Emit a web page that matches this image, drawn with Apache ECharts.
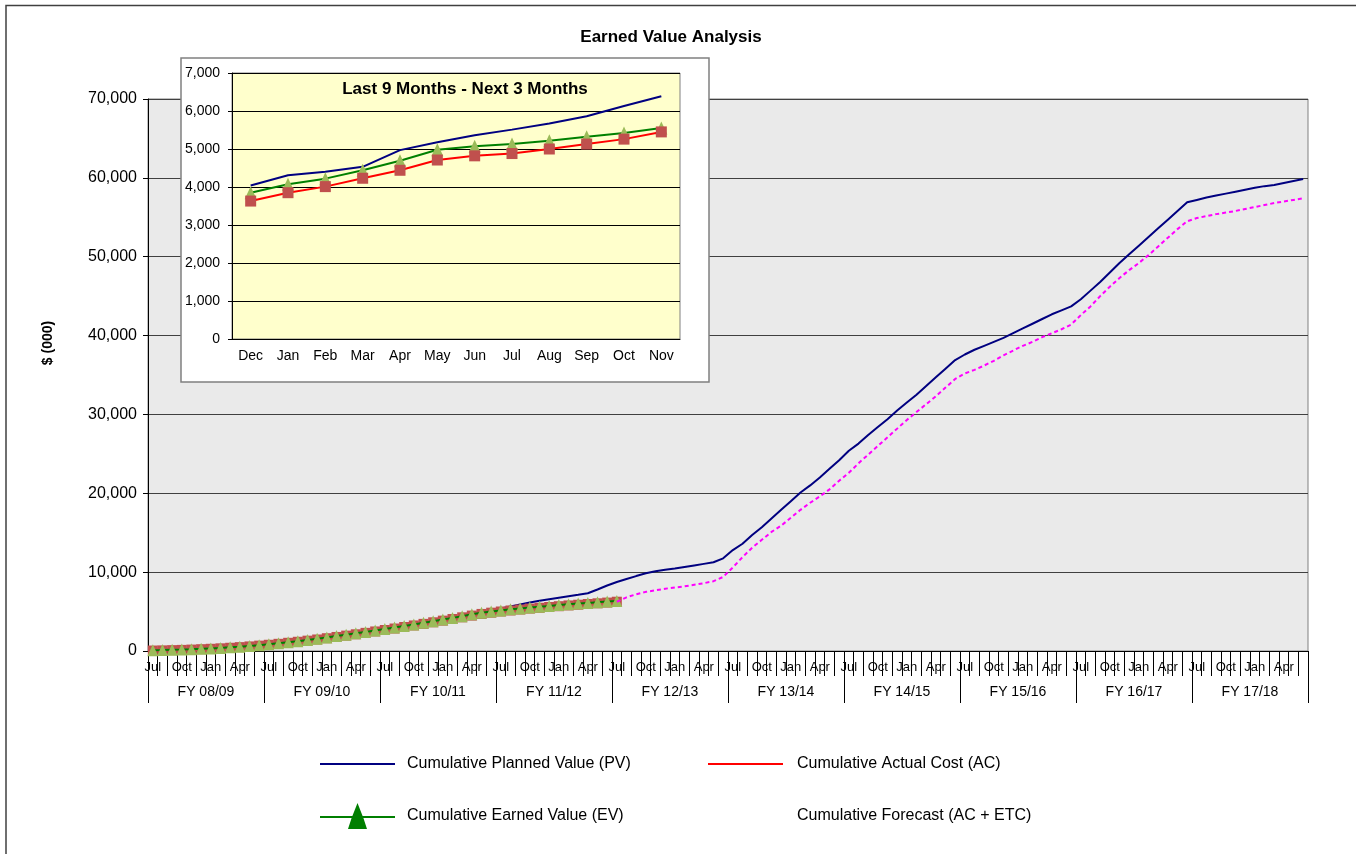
<!DOCTYPE html>
<html>
<head>
<meta charset="utf-8">
<script src="https://cdn.jsdelivr.net/npm/echarts@6/dist/echarts.min.js"></script>
<style>
html,body{margin:0;padding:0;background:#fff;}
#chart{width:1356px;height:854px;}
</style>
</head>
<body>
<div id="chart"></div>
<script>
// ---------- DATA ----------
const monthNames = ['Jul','Aug','Sep','Oct','Nov','Dec','Jan','Feb','Mar','Apr','May','Jun'];
const fyLabels = ['FY 08/09','FY 09/10','FY 10/11','FY 11/12','FY 12/13','FY 13/14','FY 14/15','FY 15/16','FY 16/17','FY 17/18'];

const pvValues = [
  150,180,210,250,300,350,410,480,550,630,720,820,
  940,1060,1180,1300,1440,1590,1740,1900,2060,2220,2390,2560,
  2740,2920,3110,3300,3500,3700,3920,4140,4380,4620,4860,5080,
  5400,5650,5900,6150,6380,6570,6760,6950,7130,7320,7800,8300,
  8750,9130,9500,9850,10100,10300,10450,10650,10850,11050,11250,11750,
  12800,13600,14700,15700,16800,17900,19000,20100,21000,22000,23100,24200,
  25400,26300,27400,28400,29400,30500,31500,32500,33600,34700,35800,36900,
  37600,38200,38700,39200,39700,40300,40900,41500,42100,42700,43200,43700,
  44600,45700,46800,48000,49200,50300,51400,52500,53600,54700,55800,56900,
  57200,57500,57750,58000,58250,58500,58750,58950,59100,59350,59600,59850
];
const acValues = [
  60,80,110,140,180,230,280,340,410,490,580,680,
  790,910,1040,1170,1310,1460,1620,1780,1950,2120,2300,2480,
  2660,2850,3040,3240,3440,3640,3850,4060,4270,4490,4700,4860,
  5010,5140,5260,5380,5480,5580,5680,5780,5870,5960,6050,6140,
  6250
];
const evValues = [
  100,120,150,180,220,270,330,390,460,540,630,730,
  850,980,1110,1250,1400,1560,1720,1890,2060,2240,2420,2600,
  2780,2970,3170,3370,3570,3780,3990,4200,4420,4650,4850,5000,
  5150,5280,5400,5520,5620,5720,5820,5920,6010,6100,6190,6280,
  6350
];
const forecastValues = [
  null,null,null,null,null,null,null,null,null,null,null,null,
  null,null,null,null,null,null,null,null,null,null,null,null,
  null,null,null,null,null,null,null,null,null,null,null,null,
  null,null,null,null,null,null,null,null,null,null,null,null,
  6250,6800,7200,7500,7700,7900,8050,8200,8400,8600,8850,9400,
  10600,11900,13100,14100,15100,15900,16900,17900,18800,19600,20500,21600,
  22600,23800,24900,26000,27100,28200,29300,30300,31300,32300,33400,34500,
  35200,35650,36200,36800,37500,38100,38700,39200,39800,40300,40800,41400,
  42600,43700,45000,46200,47300,48300,49200,50200,51300,52400,53500,54500,
  54900,55150,55400,55600,55800,56050,56300,56550,56800,57000,57200,57400
];

const insetMonths = ['Dec','Jan','Feb','Mar','Apr','May','Jun','Jul','Aug','Sep','Oct','Nov'];
const insetPV = [4040,4310,4400,4530,4970,5180,5360,5510,5670,5860,6130,6390];
const insetEV = [3850,4070,4220,4440,4690,4980,5070,5130,5220,5320,5420,5550];
const insetAC = [3630,3850,4010,4230,4440,4710,4820,4880,5000,5130,5260,5450];

const seriesNames = {
  pv: 'Cumulative Planned Value (PV)',
  ac: 'Cumulative Actual Cost (AC)',
  ev: 'Cumulative Earned Value (EV)',
  fc: 'Cumulative Forecast (AC + ETC)'
};

// ---------- BUILD ----------
const monthCats = [];
fyLabels.forEach(function(fy){ monthNames.forEach(function(m){ monthCats.push(m + ' ' + fy); }); });

const FONT = '"Liberation Sans", Arial, sans-serif';
const fmt = function(v){ return Number(v).toLocaleString('en-US'); };

const chart = echarts.init(document.getElementById('chart'), null, {renderer:'canvas'});
const option = {
  animation: false,
  backgroundColor: '#fff',
  textStyle: {fontFamily: FONT},
  title: [
    {text: 'Earned Value Analysis', left: 666, textAlign: 'center', top: 24,
     textStyle: {fontFamily: FONT, fontSize: 17, fontWeight: 'bold', color: '#000'}},
    {text: 'Last 9 Months - Next 3 Months', left: 460, textAlign: 'center', top: 76, z: 20,
     textStyle: {fontFamily: FONT, fontSize: 17, fontWeight: 'bold', color: '#000'}}
  ],
  graphic: [
    {type: 'polyline', z: 1, silent: true,
     shape: {points: [[6, 854], [6, 5.5], [1356, 5.5]]},
     style: {stroke: '#404040', lineWidth: 1.5, fill: null}},
    {type: 'rect', z: 10, silent: true,
     shape: {x: 181, y: 58, width: 528, height: 324},
     style: {fill: '#fff', stroke: '#808080', lineWidth: 1.5}},
    {type: 'text', z: 10, silent: true, x: 48, y: 343, rotation: Math.PI / 2,
     style: {text: '$ (000)', fill: '#000', font: 'bold 14px "Liberation Sans", Arial, sans-serif',
             align: 'center', verticalAlign: 'middle'}}
  ],
  legend: [
    {left: 320, top: 756, padding: 0, orient: 'vertical', itemWidth: 75, itemHeight: 26, itemGap: 31,
     selectedMode: false,
     textStyle: {fontFamily: FONT, fontSize: 16, color: '#000', padding: [0,0,0,7]},
     data: [
       {name: seriesNames.pv, icon: 'path://M0,0H75V2H0Z', itemStyle: {color: '#000080'}},
       {name: seriesNames.ev, icon: 'path://M0,13H32.4L37.5,0L42.6,13H75V15H43.4L47,26H28L31.6,15H0Z', itemStyle: {color: '#007F00'}}
     ]},
    {left: 708, top: 756, padding: 0, orient: 'vertical', itemWidth: 75, itemHeight: 26, itemGap: 31,
     selectedMode: false,
     textStyle: {fontFamily: FONT, fontSize: 16, color: '#000', padding: [0,0,0,9]},
     data: [
       {name: seriesNames.ac, icon: 'path://M0,0H75V2H0Z', itemStyle: {color: '#FF0000'}},
       {name: seriesNames.fc, icon: 'rect', itemStyle: {color: 'rgba(0,0,0,0)'}}
     ]}
  ],
  grid: [
    {left: 148, right: 48, top: 99, bottom: 203, show: true, backgroundColor: '#EAEAEA',
     borderColor: '#808080', borderWidth: 1, containLabel: false},
    {left: 232, right: 676, top: 73, bottom: 515, show: true, backgroundColor: '#FFFFCC',
     borderColor: '#808080', borderWidth: 1, z: 12, containLabel: false}
  ],
  xAxis: [
    {type: 'category', gridIndex: 0, data: monthCats, boundaryGap: true,
     axisLine: {show: true, lineStyle: {color: '#000', width: 1}},
     axisTick: {show: true, interval: 0, length: 25, lineStyle: {color: '#000'}},
     axisLabel: {interval: 2, margin: 10, fontFamily: FONT, fontSize: 13, color: '#000',
                 formatter: function(v){ return v.split(' ')[0]; }},
     splitLine: {show: false}},
    {type: 'category', gridIndex: 0, data: fyLabels, boundaryGap: true, position: 'bottom',
     axisLine: {show: false},
     axisTick: {show: true, interval: 0, length: 52, lineStyle: {color: '#000'}},
     axisLabel: {interval: 0, margin: 34, fontFamily: FONT, fontSize: 14, color: '#000'},
     splitLine: {show: false}},
    {type: 'category', gridIndex: 1, data: insetMonths, boundaryGap: true, z: 13,
     axisLine: {show: true, lineStyle: {color: '#000'}},
     axisTick: {show: false},
     axisLabel: {interval: 0, margin: 10, fontFamily: FONT, fontSize: 14, color: '#000'}}
  ],
  yAxis: [
    {type: 'value', gridIndex: 0, min: 0, max: 70000, interval: 10000,
     axisLine: {show: true, lineStyle: {color: '#000'}},
     axisTick: {show: true, length: 5, lineStyle: {color: '#000'}},
     axisLabel: {margin: 11, fontFamily: FONT, fontSize: 16, color: '#000', formatter: fmt},
     splitLine: {show: true, lineStyle: {color: '#404040', width: 1}}},
    {type: 'value', gridIndex: 1, min: 0, max: 7000, interval: 1000, z: 13,
     axisLine: {show: true, lineStyle: {color: '#000'}},
     axisTick: {show: true, length: 4, lineStyle: {color: '#000'}},
     axisLabel: {margin: 12, fontFamily: FONT, fontSize: 14, color: '#000', formatter: fmt},
     splitLine: {show: true, lineStyle: {color: '#000', width: 1}}}
  ],
  series: [
    {name: seriesNames.pv, type: 'line', xAxisIndex: 0, yAxisIndex: 0, data: pvValues,
     symbol: 'none', lineStyle: {color: '#000080', width: 2}, itemStyle: {color: '#000080'}, z: 2},
    {name: seriesNames.ac, type: 'line', xAxisIndex: 0, yAxisIndex: 0, data: acValues,
     symbol: 'rect', symbolSize: 10, showAllSymbol: true,
     lineStyle: {color: '#FF0000', width: 2}, itemStyle: {color: '#C0504D', borderWidth: 0}, z: 3},
    {name: seriesNames.ev, type: 'line', xAxisIndex: 0, yAxisIndex: 0, data: evValues,
     symbol: 'triangle', symbolSize: [11, 12], showAllSymbol: true,
     lineStyle: {color: '#008000', width: 2}, itemStyle: {color: '#9BBB59', borderWidth: 0}, z: 4},
    {name: seriesNames.fc, type: 'line', xAxisIndex: 0, yAxisIndex: 0, data: forecastValues,
     symbol: 'none', connectNulls: false,
     lineStyle: {color: '#FF00FF', width: 2, type: [4, 3]}, itemStyle: {color: '#FF00FF'}, z: 5},

    {name: 'Inset PV', type: 'line', xAxisIndex: 2, yAxisIndex: 1, data: insetPV,
     symbol: 'none', lineStyle: {color: '#000080', width: 2}, itemStyle: {color: '#000080'}, z: 20},
    {name: 'Inset EV', type: 'line', xAxisIndex: 2, yAxisIndex: 1, data: insetEV,
     symbol: 'triangle', symbolSize: [12, 13], showAllSymbol: true,
     lineStyle: {color: '#008000', width: 2}, itemStyle: {color: '#9BBB59', borderWidth: 0}, z: 21},
    {name: 'Inset AC', type: 'line', xAxisIndex: 2, yAxisIndex: 1, data: insetAC,
     symbol: 'rect', symbolSize: 11, showAllSymbol: true,
     lineStyle: {color: '#FF0000', width: 2}, itemStyle: {color: '#C0504D', borderWidth: 0}, z: 22}
  ]
};
chart.setOption(option);
</script>
</body>
</html>
